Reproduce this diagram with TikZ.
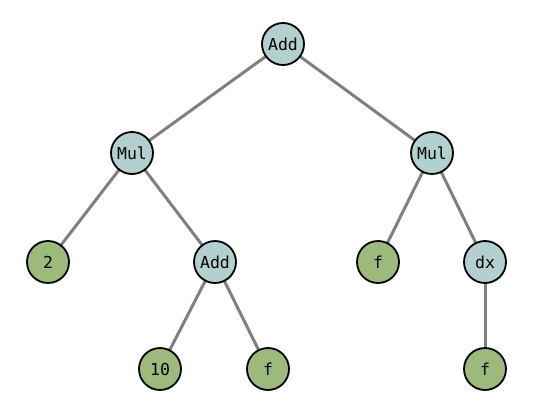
\documentclass[tikz,border=0pt]{standalone}
\usepackage{fontspec}
\setmonofont{DejaVu Sans Mono}
\usetikzlibrary{backgrounds}
\definecolor{opc}{HTML}{B2D0CF}
\definecolor{leafc}{HTML}{9CBB7B}
\definecolor{edgec}{HTML}{808080}
\begin{document}
\begin{tikzpicture}[x=1pt,y=-1pt,
  op/.style={circle,draw=black,line width=1.8pt,fill=opc,minimum size=42pt,inner sep=0pt,font=\ttfamily\fontsize{16.5}{18}\selectfont},
  leaf/.style={op,fill=leafc},
  edge/.style={draw=edgec,line width=3pt}]
\useasboundingbox (0,0) rectangle (538,415);
\node[op] (a) at (283,44) {Add};
\node[op] (m1) at (132,153) {Mul};
\node[op] (m2) at (432,153) {Mul};
\node[leaf] (two) at (48,262) {2};
\node[op] (a2) at (215,262) {Add};
\node[leaf] (f1) at (378,262) {f};
\node[op] (dx) at (485,262) {dx};
\node[leaf] (ten) at (160,369) {10};
\node[leaf] (f2) at (268,369) {f};
\node[leaf] (f3) at (485,369) {f};
\begin{scope}[on background layer]
\draw[edge] (a.center) -- (m1.center);
\draw[edge] (a.center) -- (m2.center);
\draw[edge] (m1.center) -- (two.center);
\draw[edge] (m1.center) -- (a2.center);
\draw[edge] (a2.center) -- (ten.center);
\draw[edge] (a2.center) -- (f2.center);
\draw[edge] (m2.center) -- (f1.center);
\draw[edge] (m2.center) -- (dx.center);
\draw[edge] (dx.center) -- (f3.center);
\end{scope}
\end{tikzpicture}
\end{document}
